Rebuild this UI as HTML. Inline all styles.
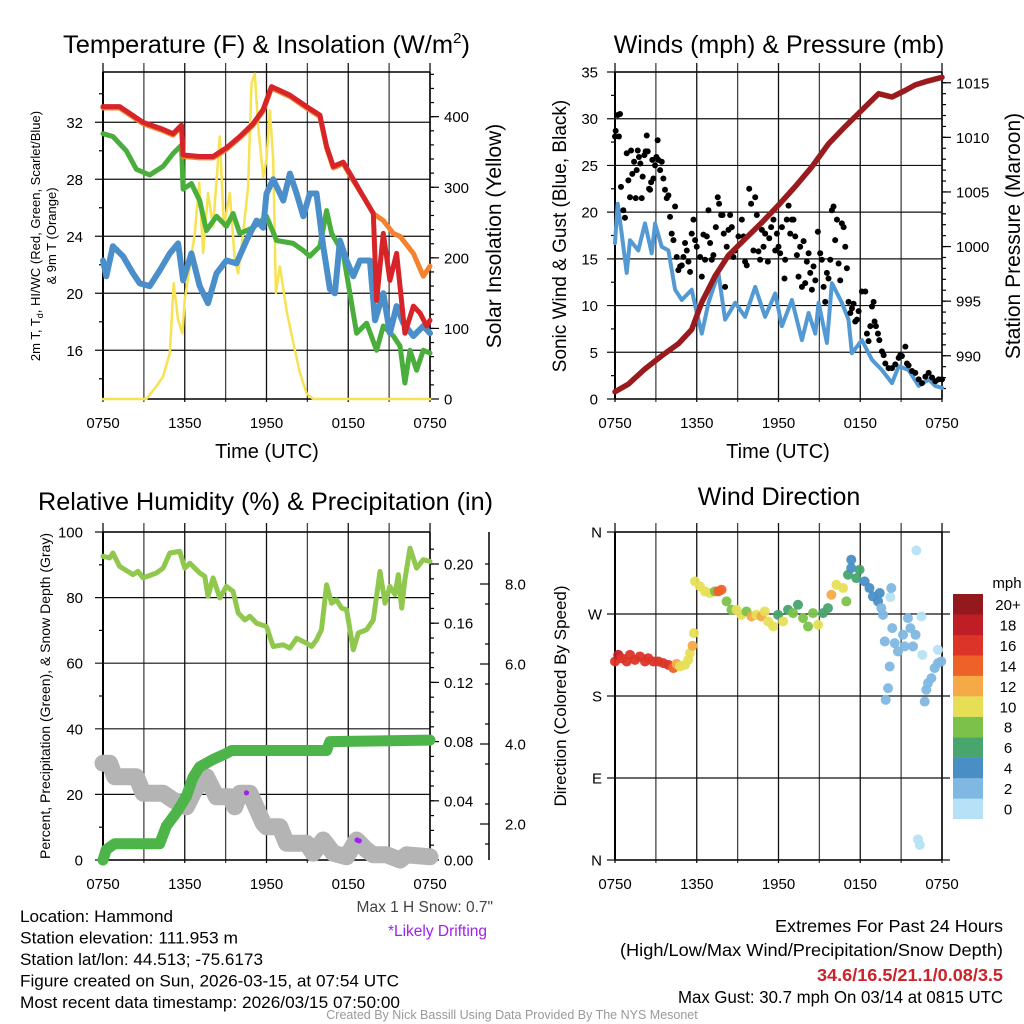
<!DOCTYPE html>
<html><head><meta charset="utf-8"><style>
html,body{margin:0;padding:0;background:#fff;}
svg{display:block;font-family:"Liberation Sans",Arial,sans-serif;}
</style></head><body>
<svg id="fig" width="1024" height="1024" viewBox="0 0 1024 1024" xmlns="http://www.w3.org/2000/svg">
<rect width="1024" height="1024" fill="#fff"/>
<text x="63" y="53" font-size="25" textLength="407" lengthAdjust="spacingAndGlyphs">Temperature (F) &amp; Insolation (W/m<tspan font-size="15" dy="-10">2</tspan><tspan dy="10">)</tspan></text>
<text x="779" y="53" font-size="25" text-anchor="middle">Winds (mph) &amp; Pressure (mb)</text>
<text x="38" y="510" font-size="25" textLength="455" lengthAdjust="spacingAndGlyphs">Relative Humidity (%) &amp; Precipitation (in)</text>
<text x="779" y="505" font-size="25" text-anchor="middle">Wind Direction</text>
<text x="267" y="458" font-size="20" text-anchor="middle">Time (UTC)</text>
<text x="778" y="458" font-size="20" text-anchor="middle">Time (UTC)</text>
<text transform="translate(40,236) rotate(-90)" font-size="13" text-anchor="middle">2m T, T<tspan font-size="9" dy="3">d</tspan><tspan dy="-3">, HI/WC (Red, Green, Scarlet/Blue)</tspan></text>
<text transform="translate(56,236) rotate(-90)" font-size="13" text-anchor="middle">&amp; 9m T (Orange)</text>
<text transform="translate(501,236) rotate(-90)" font-size="21" text-anchor="middle">Solar Insolation (Yellow)</text>
<text transform="translate(566,236) rotate(-90)" font-size="19" text-anchor="middle">Sonic Wind &amp; Gust (Blue, Black)</text>
<text transform="translate(1020,236) rotate(-90)" font-size="21" text-anchor="middle">Station Pressure (Maroon)</text>
<text transform="translate(50,696) rotate(-90)" font-size="14" text-anchor="middle">Percent, Precipitation (Green), &amp; Snow Depth (Gray)</text>
<text transform="translate(566,696) rotate(-90)" font-size="17" text-anchor="middle">Direction (Colored By Speed)</text>
<text x="493" y="912" font-size="15.5" fill="#444" text-anchor="end">Max 1 H Snow: 0.7"</text>
<text x="487" y="936" font-size="15.5" fill="#a020f0" text-anchor="end">*Likely Drifting</text>
<g font-size="16.5">
<text x="20" y="922" textLength="153" lengthAdjust="spacingAndGlyphs">Location: Hammond</text>
<text x="20" y="943.5" textLength="218" lengthAdjust="spacingAndGlyphs">Station elevation: 111.953 m</text>
<text x="20" y="965" textLength="243" lengthAdjust="spacingAndGlyphs">Station lat/lon: 44.513; -75.6173</text>
<text x="20" y="986.5" textLength="379" lengthAdjust="spacingAndGlyphs">Figure created on Sun, 2026-03-15, at 07:54 UTC</text>
<text x="20" y="1008" textLength="380" lengthAdjust="spacingAndGlyphs">Most recent data timestamp: 2026/03/15 07:50:00</text>
</g>
<g font-size="17.5">
<text x="775" y="932" textLength="228" lengthAdjust="spacingAndGlyphs">Extremes For Past 24 Hours</text>
<text x="620" y="956" textLength="383" lengthAdjust="spacingAndGlyphs">(High/Low/Max Wind/Precipitation/Snow Depth)</text>
<text x="817" y="981" textLength="186" lengthAdjust="spacingAndGlyphs" fill="#cc2229" font-weight="bold">34.6/16.5/21.1/0.08/3.5</text>
<text x="678" y="1003" textLength="325" lengthAdjust="spacingAndGlyphs">Max Gust: 30.7 mph On 03/14 at 0815 UTC</text>
</g>
<text x="512" y="1019" font-size="12.5" fill="#999" text-anchor="middle">Created By Nick Bassill Using Data Provided By The NYS Mesonet</text>
</svg>
<script>
// ---- data (hours after 0750 UTC) ----
const xTickLabels = ["0750","1350","1950","0150","0750"];
const tempHours = [0,1.22,2.94,4.41,5.14,5.76,5.88,7.10,8.08,9.06,10.04,11.02,11.76,12.37,13.72,14.94,15.92,16.41,16.90,17.63,18.37,19.10,19.84,20.08,20.57,21.06,21.55,21.80,22.16,22.78,23.27,23.76,24];
const tempValues = [33.1,33.1,32.0,31.5,31.2,31.8,29.7,29.6,29.6,30.2,31.0,31.9,32.9,34.5,33.9,33.1,32.5,30.3,28.9,29.2,28.0,26.8,25.6,19.5,24.2,20.9,22.8,20.5,17.2,19.1,18.6,17.7,18.1];
const temp9Hours = [0,1.22,2.94,4.41,5.14,5.76,5.88,7.10,8.08,9.06,10.04,11.02,11.76,12.37,13.72,14.94,15.92,16.41,16.90,17.63,18.37,19.10,19.84,20.57,21.31,21.80,22.78,23.51,24];
const temp9Values = [33.0,33.0,31.9,31.4,31.1,31.7,29.6,29.5,29.5,30.1,30.9,31.8,32.8,34.4,33.8,33.0,32.4,30.2,28.8,29.1,27.9,26.8,25.6,25.1,24.2,24.0,22.8,21.2,21.9];
const dewHours = [0,0.73,1.71,2.45,3.43,4.41,5.14,5.76,5.88,6.49,7.10,7.59,8.33,9.06,9.55,10.04,11.02,12.0,12.74,13.96,14.70,15.18,15.92,16.41,16.78,17.63,18.12,18.61,19.35,20.08,20.57,21.31,21.80,22.16,22.53,23.02,23.51,24];
const dewValues = [31.2,31.0,30.0,28.7,28.3,28.9,29.8,30.4,27.3,27.7,26.5,24.4,25.4,24.7,25.6,24.2,24.6,25.4,23.7,23.5,23.0,22.6,23.3,25.8,24.2,22.8,20.0,17.2,17.9,16.0,17.7,17.0,16.3,13.7,16.0,14.6,16.0,15.8];
const chillHours = [0,0.24,0.73,1.47,2.20,2.69,3.43,4.16,4.90,5.51,5.88,6.49,7.10,7.71,8.33,9.06,9.80,10.53,11.27,11.76,12.0,12.49,13.23,13.72,14.21,14.70,15.18,15.67,16.16,16.65,17.02,17.39,17.88,18.37,18.86,19.59,19.96,20.57,21.06,21.55,22.04,22.78,23.51,24];
const chillValues = [22.3,21.2,23.3,22.6,21.4,20.7,20.5,21.6,22.8,23.5,20.9,22.8,20.5,19.3,21.4,22.3,22.1,23.7,25.1,24.6,27.0,28.0,26.5,28.4,27.0,25.4,27.0,27.0,23.3,20.3,20.0,23.7,22.3,21.2,22.3,22.3,18.1,20.0,17.2,19.1,17.9,17.0,17.7,17.2];
const solarHours = [0,3.18,3.92,4.41,4.90,5.19,5.51,5.83,6.0,6.37,6.74,7.06,7.35,7.71,8.08,8.57,8.87,9.31,9.67,9.92,10.29,10.65,10.90,11.14,11.39,11.76,12.0,12.25,12.49,12.69,12.98,13.47,13.96,14.45,14.94,15.43,24];
const solarValues = [0,0,18,32,65,164,112,93,141,188,235,306,207,292,244,372,244,292,197,178,235,301,447,461,386,315,339,409,339,150,188,126,80,37,8,0,0];
const pressHours = [0,0.98,2.20,3.43,4.65,5.63,6.37,7.35,8.33,9.55,10.78,12.0,13.23,14.45,15.67,16.90,18.12,19.35,20.33,21.31,22.04,22.78,24];
const pressValues = [986.7,987.4,988.8,990.0,991.1,992.4,994.9,997.3,999.2,1000.7,1002.2,1003.8,1005.5,1007.3,1009.4,1011.0,1012.5,1014.0,1013.7,1014.3,1014.8,1015.1,1015.5];
const windHours = [0,0.2,0.49,0.86,1.10,1.71,2.20,2.69,2.94,3.43,3.92,4.41,4.90,5.63,6.0,6.37,6.86,7.59,8.08,8.82,9.55,10.29,11.02,11.76,12.25,12.98,13.72,14.21,14.70,14.94,15.55,15.92,16.65,17.14,17.39,18.12,18.86,19.59,20.33,20.82,21.55,22.29,23.02,23.51,24];
const windValues = [16.7,20.9,17.7,13.5,17.0,15.9,18.8,15.6,18.8,16.3,15.9,11.7,10.6,11.7,9.2,7.0,10.3,13.5,8.5,10.3,8.8,12.0,8.8,11.3,7.8,10.6,6.3,9.2,7.0,10.3,6.0,12.4,10.3,8.5,4.9,6.3,4.2,3.1,1.7,3.5,3.1,1.4,2.1,1.4,1.2];
const gustHours = [0,0.05,0.2,0.37,0.29,0.44,0.61,0.73,0.86,0.98,1.10,1.18,1.27,1.40,1.52,1.59,1.67,1.76,1.86,1.96,2.03,2.16,2.25,2.33,2.40,2.50,2.57,2.65,2.74,2.82,2.94,3.04,3.13,3.18,3.31,3.43,3.55,3.67,3.80,3.92,4.04,4.16,4.29,4.41,4.53,4.65,4.78,4.90,5.02,5.14,5.27,5.39,5.51,5.63,5.76,5.88,6.00,6.25,6.37,6.49,6.61,6.74,6.86,6.98,7.10,7.22,7.40,7.54,7.64,7.79,7.89,7.98,8.08,8.20,8.33,8.45,8.57,8.69,8.82,9.06,9.31,9.43,9.55,9.67,9.85,9.99,10.16,10.29,10.41,10.53,10.65,10.78,10.90,11.02,11.22,11.32,11.46,11.63,11.76,11.88,12.00,12.12,12.25,12.44,12.49,12.61,12.74,12.86,12.98,13.10,13.23,13.35,13.47,13.59,13.72,13.84,13.96,14.08,14.21,14.33,14.45,14.57,14.70,14.89,15.06,15.18,15.31,15.43,15.55,15.67,15.80,15.92,16.04,16.16,16.29,16.41,16.53,16.65,16.78,16.90,17.02,17.14,17.27,17.39,17.51,17.63,17.76,17.88,18.12,18.37,18.49,18.61,18.74,18.86,18.98,19.05,19.15,19.30,19.40,19.59,19.72,19.84,20.08,20.33,20.57,20.82,20.94,21.06,21.31,21.43,21.55,21.80,22.04,22.29,22.53,22.78,23.02,23.27,23.51,23.76,24.0];
const gustValues = [28.1,28.7,30.4,30.5,28.1,22.7,20.2,19.4,26.3,23.4,21.6,26.6,24.1,25.4,21.5,24.5,26.6,25.9,25.2,21.5,23.8,26.1,26.5,28.2,26.5,22.5,22.4,23.2,25.6,23.6,25.0,25.9,27.7,25.6,24.5,25.4,23.6,22.4,21.5,21.8,19.5,17.7,17.0,20.6,15.2,13.8,14.2,14.3,15.2,16.7,15.9,14.7,13.6,17.7,19.2,17.0,16.3,15.2,13.1,17.6,14.9,17.4,20.2,16.7,14.9,15.4,18.4,21.6,20.9,19.7,19.7,17.7,12.0,16.3,18.1,19.7,18.4,15.2,15.9,17.4,19.2,17.4,14.7,14.3,22.5,20.9,15.9,21.6,19.7,15.8,14.9,18.1,16.3,17.7,14.7,17.2,18.4,19.2,15.9,17.7,16.3,15.6,18.4,12.9,14.9,19.2,20.7,17.7,19.2,19.2,17.4,15.4,13.1,16.3,12.0,16.9,12.4,14.7,15.6,13.5,11.7,14.2,12.7,17.9,15.6,14.9,12.0,10.4,13.5,12.9,14.9,20.2,20.6,17.0,19.2,14.5,12.7,18.8,18.4,16.3,14.0,10.4,9.2,9.7,10.2,8.3,8.5,9.4,11.5,11.5,7.0,6.2,7.8,9.9,10.4,8.3,7.8,7.0,6.3,5.1,4.7,3.8,3.3,3.3,3.7,4.4,4.7,4.6,5.6,3.8,3.6,3.0,2.8,2.1,1.7,2.4,2.8,2.3,1.9,2.1,2.1];
const rhHours = [0,0.49,0.73,1.22,2.20,2.57,2.94,3.92,4.41,4.90,5.63,6.0,6.37,7.10,7.47,7.71,8.08,8.57,9.06,9.55,9.92,10.41,10.78,11.27,12.0,12.49,13.23,13.72,14.21,14.94,15.31,15.67,16.04,16.41,16.78,17.14,17.51,17.88,18.37,18.74,19.35,19.84,20.33,20.70,21.06,21.43,21.67,21.92,22.16,22.53,23.02,23.51,24];
const rhValues = [92.6,92.1,93.6,89.5,87.0,88.0,86.0,87.5,89.0,93.6,94.1,89.0,90.5,87.5,86.5,80.4,86.0,79.9,83.4,81.9,75.3,73.2,74.3,72.2,71.2,65.1,65.6,64.6,67.6,66.1,65.1,67.1,70.2,83.9,78.3,79.3,76.8,76.3,64.1,69.2,70.2,73.2,88.0,78.3,83.4,80.9,87.0,76.8,85.5,95.1,89.0,91.6,91.0];
const precipHours = [0,0.24,0.86,4.16,4.65,5.39,6.12,6.61,7.10,8.08,9.06,9.43,16.41,16.65,24];
const precipValues = [0,0.007,0.011,0.011,0.023,0.032,0.043,0.056,0.063,0.068,0.072,0.074,0.074,0.080,0.081];
const snowHours = [0,0.49,0.86,1.22,2.45,2.94,4.41,5.14,6.12,6.61,7.10,7.59,8.33,9.31,9.67,10.04,10.78,11.76,12.0,12.98,13.47,14.94,15.43,16.16,16.90,17.88,18.61,19.35,19.84,20.82,21.80,22.29,24];
const snowValues = [3.52,3.52,3.18,3.18,3.18,2.77,2.77,2.60,2.43,2.77,3.02,3.18,2.68,2.68,2.43,2.77,2.77,2.02,1.93,1.93,1.52,1.52,1.27,1.60,1.27,1.18,1.60,1.35,1.23,1.23,1.10,1.23,1.18];
const driftHours = [10.53,18.65,18.80];
const driftValues = [2.78,1.60,1.58];
const dirHours = [0,0.24,0.49,0.86,1.10,1.47,1.83,2.20,2.44,2.81,3.18,3.54,3.91,4.28,4.52,4.77,5.13,5.38,5.50,5.69,5.79,5.87,6.23,6.60,6.96,7.33,7.58,7.82,8.19,8.55,8.92,9.28,9.65,10.02,10.38,10.75,10.99,11.24,11.61,11.97,12.34,12.70,13.07,13.43,13.80,14.17,14.53,14.90,15.27,15.63,15.88,16.25,16.74,16.98,17.10,17.34,17.34,17.71,17.95,18.32,18.68,18.93,19.31,19.55,19.67,19.43,20.21,20.28,20.35,19.80,20.53,20.77,20.16,20.04,19.87,21.14,21.50,21.26,21.87,22.06,21.68,22.12,22.49,22.56,22.24,22.37,22.73,22.85,22.97,23.22,23.46,23.70,23.95,23.70];
const dirValues = [217.9,225.2,221.5,217.9,225.2,219.7,223.4,217.9,221.5,217.9,217.9,216.1,214.2,210.6,215.3,212.4,214.2,219.7,227,235.1,249,305.8,300.3,294.8,293,294.8,294.8,296.6,283.8,274.6,274.6,269.1,272.8,267.3,269.1,267.3,272.8,261.8,256.3,269.1,261.8,274.6,271,280.1,265.5,256.3,271,258.2,271,276.5,291.1,302.1,298.5,283.8,313.1,329.6,320.4,309.4,318.6,305.8,298.5,289.3,283.8,276.5,269.1,293,288.6,298.5,254.5,239.9,238,228.9,212.4,188.6,175.8,247.2,265.5,234.4,234.4,247.2,254.5,339.8,267.3,225.2,22.7,16.5,173.9,186.8,194.1,199.6,210.6,216.1,217.9,230.7];
const dirSpeeds = [17,19,17,16,17,16,17,17,16,17,17,16,16,14,12,10,10,10,10,13,10,10,10,10,10,8,14,14,8,8,10,10,8,12,10,12,10,10,10,6,10,7,8,7,8,8,8,10,7,6,12,10,10,8,6,4,4,6,6,5,4,4,4,2,2,4,1,2,2,2,2,2,2,2,2,2,2,2,2,2,2,0,0,0,0,0,2,2,2,2,2,2,2,0];
const speedLabels = ["0","2","4","6","8","10","12","14","16","18","20+"];
const speedColors = ["#b6e1f6","#7fb8e2","#4a8ec6","#48a56e","#7cc24a","#e6df56","#f6aa47","#ee6229","#dc3428","#bf1e27","#94191d"];
const tempTicks = [16,20,24,28,32];
const solarTicks = [0,100,200,300,400];
const windTicks = [0,5,10,15,20,25,30,35];
const pressTicks = [990,995,1000,1005,1010,1015];
const rhTicks = [0,20,40,60,80,100];
const precipTicks = [0,0.04,0.08,0.12,0.16,0.20];
const snowTicks = [2,4,6,8];
const dirTicks = [0,90,180,270,360];
const dirLabels = ["N","E","S","W","N"];
</script>
<script>
const NS="http://www.w3.org/2000/svg";
const svg=document.getElementById('fig');
function mk(tag,attrs,parent){const e=document.createElementNS(NS,tag);for(const k in attrs)e.setAttribute(k,attrs[k]);(parent||svg).appendChild(e);return e;}
function grp(name){const g=mk('g',{});


return g;}
const LX0=103,LX1=430,RX0=615,RX1=942;
const xL=h=>LX0+h*(LX1-LX0)/24, xR=h=>RX0+h*(RX1-RX0)/24;
const TY0=72,TY1=399,BY0=532,BY1=860;
const yT=v=>399-(v-12.58)*14.25;
const yS=w=>399-w*0.7058;
const yW=v=>399-v*(327/35);
const yP=p=>399-(p-986.04)*10.92;
const yR=v=>860-v*3.28;
const yPr=p=>860-p*1480;
const ySn=s=>744-(s-4)*40;
const yD=d=>860-d*(328/360);

function frame(x0,x1,y0,y1,xs,name){
  const g=grp(name);
  for(let h=0;h<=24;h+=3){const x=xs(h);
    const l=mk('line',{x1:x,x2:x,y1:y0-9,y2:y1+3,stroke:(h%6==0?'#111':'#444'),'stroke-width':1.3},g);
    
    }
  xTickLabels.forEach((t,i)=>{const tx=mk('text',{x:xs(i*6),y:y1+29,'font-size':15,'text-anchor':'middle'},g);tx.textContent=t;
    
    });
  mk('line',{x1:x0,x2:x1,y1:y0,y2:y0,stroke:'#000','stroke-width':1.5},g);
  mk('line',{x1:x0,x2:x1,y1:y1,y2:y1,stroke:'#000','stroke-width':1.5},g);
  mk('line',{x1:x0,x2:x0,y1:y0,y2:y1,stroke:'#000','stroke-width':2},g);
  mk('line',{x1:x1,x2:x1,y1:y0,y2:y1,stroke:'#000','stroke-width':1.5},g);
  return g;
}
function hgrid(g,vals,ys,x0,x1,labels,lx,anchor){
  vals.forEach((v,i)=>{const y=ys(v);
    const l=mk('line',{x1:x0,x2:x1,y1:y,y2:y,stroke:'#111','stroke-width':1.2},g);
    
    
    const t=mk('text',{x:lx,y:y+5.5,'font-size':15,'text-anchor':anchor},g);t.textContent=labels?labels[i]:v;
    
    });
}
function ticks(g,vals,ys,x,dir,len){vals.forEach(v=>{const y=ys(v);mk('line',{x1:x,x2:x+dir*len,y1:y,y2:y,stroke:'#000','stroke-width':1.2},g);});}
function rng(a,b,s){const r=[];for(let v=a;v<=b+1e-9;v+=s)r.push(+v.toFixed(4));return r;}
function line(g,hs,vs,xs,ys,color,w,name){
  const d=hs.map((h,i)=>(i?'L':'M')+xs(h).toFixed(1)+','+ys(vs[i]).toFixed(1)).join('');
  const p=mk('path',{d:d,fill:'none',stroke:color,'stroke-width':w,'stroke-linejoin':'round','stroke-linecap':'round'},g);
  
  
  return p;}

const g1=frame(LX0,LX1,TY0,TY1,xL,'temperature-panel');
hgrid(g1,tempTicks,yT,LX0-8,LX1,null,LX0-20,'end');
ticks(g1,rng(14,34,4),yT,LX0,-1,4);
ticks(g1,solarTicks,yS,LX1,1,9);
ticks(g1,rng(20,460,20),yS,LX1,1,4);
solarTicks.forEach(v=>{const t=mk('text',{x:LX1+14,y:yS(v)+5.5,'font-size':15},g1);t.textContent=v;
  
  });
line(g1,solarHours,solarValues,xL,yS,'#f7e252',2.5,'solar-insolation-line');
line(g1,dewHours,dewValues,xL,yT,'#4aae3d',5,'dewpoint-line');
line(g1,chillHours,chillValues,xL,yT,'#4a8fca',6,'wind-chill-line');
line(g1,temp9Hours,temp9Values,xL,yT,'#f5822f',5,'temp-9m-line');
line(g1,tempHours,tempValues,xL,yT,'#d62428',5,'temp-2m-line');

const g2=frame(RX0,RX1,TY0,TY1,xR,'winds-panel');
hgrid(g2,windTicks,yW,RX0-8,RX1,null,RX0-17,'end');
ticks(g2,rng(2.5,32.5,5),yW,RX0,-1,4);
ticks(g2,pressTicks,yP,RX1,1,9);
ticks(g2,rng(987,1015,1),yP,RX1,1,4);
pressTicks.forEach(v=>{const t=mk('text',{x:RX1+14,y:yP(v)+5.5,'font-size':15},g2);t.textContent=v;
  
  });
line(g2,windHours,windValues,xR,yW,'#5399d3',4,'sonic-wind-line');
const gg=grp('gust-points');g2.appendChild(gg);
gustHours.forEach((h,i)=>{const c=mk('circle',{cx:xR(h),cy:yW(gustValues[i]),r:3,fill:'#000'},gg);
  
  });
line(g2,pressHours,pressValues,xR,yP,'#9a1b1e',5.5,'pressure-line');

const g3=frame(LX0,LX1,BY0,BY1,xL,'humidity-panel');
hgrid(g3,rhTicks,yR,LX0-8,LX1,null,LX0-20,'end');
ticks(g3,rng(10,90,20),yR,LX0,-1,4);
ticks(g3,precipTicks,yPr,LX1,1,9);
ticks(g3,rng(0.01,0.21,0.01),yPr,LX1,1,4);
precipTicks.forEach(v=>{const t=mk('text',{x:LX1+14,y:yPr(v)+5.5,'font-size':15},g3);t.textContent=v.toFixed(2);
  
  });
mk('line',{x1:489,x2:489,y1:BY0,y2:BY1,stroke:'#000','stroke-width':1.5},g3);
ticks(g3,snowTicks,ySn,489,-1,9);
ticks(g3,rng(1.5,9,1),ySn,489,-1,4);
snowTicks.forEach(v=>{const t=mk('text',{x:505,y:ySn(v)+5.5,'font-size':15},g3);t.textContent=v.toFixed(1);
  
  });
line(g3,snowHours,snowValues,xL,ySn,'#b4b4b4',17,'snow-depth-line');
line(g3,precipHours,precipValues,xL,yPr,'#4cb448',11,'precipitation-line');
line(g3,rhHours,rhValues,xL,yR,'#8fc84d',5,'relative-humidity-line');
driftHours.forEach((h,i)=>{const c=mk('circle',{cx:xL(h),cy:ySn(driftValues[i]),r:2.6,fill:'#a020f0'},g3);
  
  });

const g4=frame(RX0,RX1,BY0,BY1,xR,'wind-direction-panel');
hgrid(g4,dirTicks,yD,RX0-8,RX1+8,dirLabels,RX0-13,'end');
const gd=grp('direction-points');g4.appendChild(gd);
dirHours.forEach((h,i)=>{const bin=Math.min(10,Math.max(0,Math.floor(dirSpeeds[i]/2)));
  const c=mk('circle',{cx:xR(h),cy:yD(dirValues[i]),r:5,fill:speedColors[bin],opacity:0.95},gd);
  
  });
const leg=grp('speed-colorbar');
const lt=mk('text',{x:1007,y:588,'font-size':15,'text-anchor':'middle'},leg);lt.textContent='mph';
speedLabels.forEach((s,i)=>{const k=10-i;const y=594+k*20.45;
  const r=mk('rect',{x:953,y:y,width:30,height:20.6,fill:speedColors[i]},leg);
  
  
  const t=mk('text',{x:1008,y:y+16,'font-size':15,'text-anchor':'middle'},leg);t.textContent=s;
  
  });
</script>
</body></html>
